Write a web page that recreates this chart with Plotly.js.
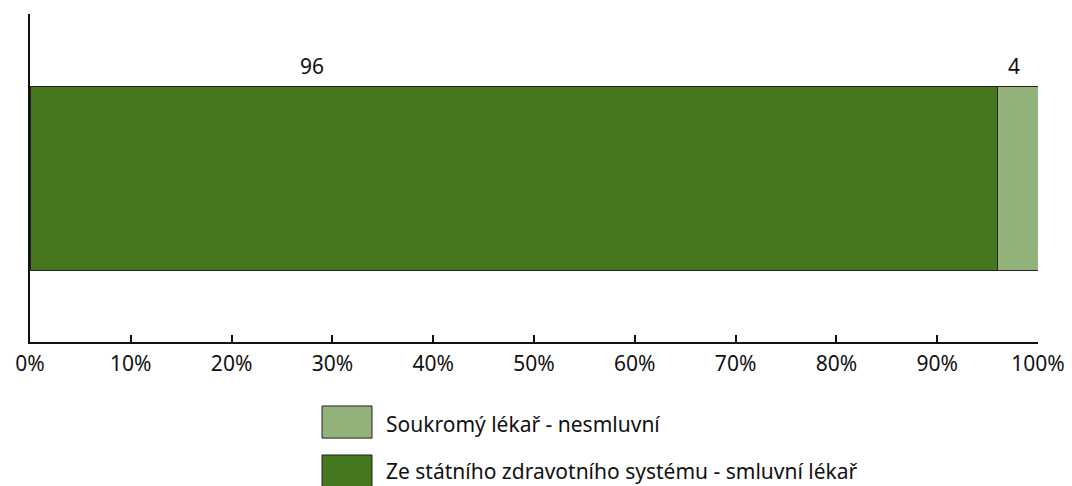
<!DOCTYPE html>
<html><head><meta charset="utf-8">
<script src="https://cdn.plot.ly/plotly-3.0.1.min.js"></script>
<style>html,body{margin:0;padding:0;background:#fff}#chart{width:1072px;height:486px}</style>
</head><body><div id="chart"></div>
<script>
var categories = [""];
var seriesNames = ["Ze státního zdravotního systému - smluvní lékař", "Soukromý lékař - nesmluvní"];
var seriesValues = [[96], [4]];
var seriesColors = ["#45781e", "#92b27a"];
var tickVals = [0,10,20,30,40,50,60,70,80,90,100];
var tickText = ["0%","10%","20%","30%","40%","50%","60%","70%","80%","90%","100%"];
var labelX = [28, 97.6];

var FONT = "Noto Sans, Open Sans, sans-serif";
var FS = 21;
var traces = seriesNames.map(function(n, i){
  return {type:'bar', orientation:'h', name:n, y:categories, x:seriesValues[i],
    marker:{color:seriesColors[i], line:{color:'#222', width:1}}, hoverinfo:'none', showlegend:false};
});
var annotations = [], shapes = [];
seriesNames.forEach(function(n, i){
  annotations.push({xref:'x', yref:'paper', x:labelX[i], y:0.841, text:String(seriesValues[i][0]),
    showarrow:false, font:{family:FONT, size:FS, color:'#111'}, xanchor:'center', yanchor:'middle'});
});
var legY = [[-0.195,-0.293,-0.25],[-0.3445,-0.442,-0.393]];
[1,0].forEach(function(idx, k){
  shapes.push({type:'rect', xref:'paper', yref:'paper', x0:0.2897, x1:0.3393, y0:legY[k][0], y1:legY[k][1],
    fillcolor:seriesColors[idx], line:{color:'#222', width:1}});
  annotations.push({xref:'paper', yref:'paper', x:0.3512, y:legY[k][2], text:seriesNames[idx], showarrow:false,
    xanchor:'left', yanchor:'middle', font:{family:FONT, size:FS, color:'#111'}});
});
var layout = {
  width:1072, height:486, margin:{l:30, r:34, t:14, b:144},
  paper_bgcolor:'#fff', plot_bgcolor:'#fff',
  barmode:'stack', bargap:0.439, showlegend:false,
  xaxis:{range:[0,100], tickvals:tickVals, ticktext:tickText, showgrid:false, zeroline:false,
    showline:true, linecolor:'#111', linewidth:2, ticks:'inside', ticklen:7, tickwidth:2, tickcolor:'#111',
    tickfont:{family:FONT, size:FS, color:'#111'}, ticklabelstandoff:2, fixedrange:true},
  yaxis:{showgrid:false, zeroline:false, showline:true, linecolor:'#111', linewidth:2, showticklabels:false,
    ticks:'', range:[-0.5,0.5]},
  annotations:annotations, shapes:shapes
};
Plotly.newPlot('chart', traces, layout, {displayModeBar:false, staticPlot:true});
</script></body></html>
